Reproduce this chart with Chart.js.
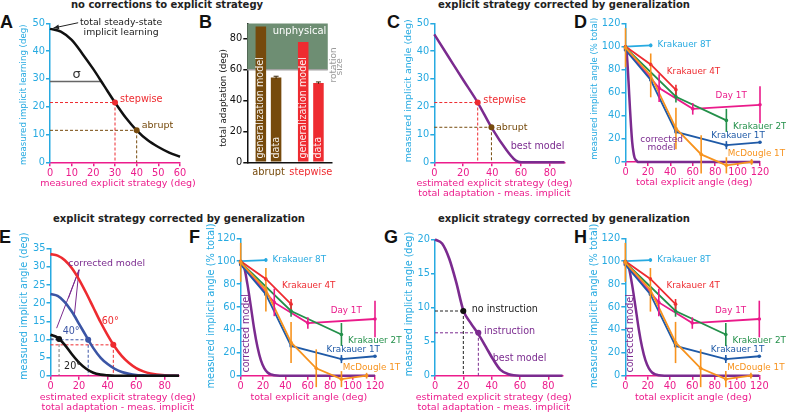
<!DOCTYPE html>
<html>
<head>
<meta charset="utf-8">
<script src="https://cdn.jsdelivr.net/npm/chart.js@4"></script>
<style>
	html, body { margin: 0; padding: 0; background: #fff; }
	#fig { position: relative; width: 786px; height: 414px; overflow: hidden; font-family: 'DejaVu Sans', sans-serif; }
	#fig canvas { position: absolute; left: 0; top: 0; }
	.let { position: absolute; font-family: 'Liberation Sans', Arial, sans-serif; font-weight: bold; font-size: 18px; line-height: 1; color: #111; }
	.ttl { position: absolute; font-weight: bold; font-size: 10px; line-height: 1; color: #222; white-space: nowrap; transform: translateX(-50%); }
</style>
</head>
<body>
<div id="fig">
	<div class="ttl" style="left:167px;top:0px">no corrections to explicit strategy</div>
	<div class="ttl" style="left:564px;top:0px">explicit strategy corrected by generalization</div>
	<div class="ttl" style="left:179px;top:214px">explicit strategy corrected by generalization</div>
	<div class="ttl" style="left:564px;top:214px">explicit strategy corrected by generalization</div>
	<div class="let" style="left:0px;top:13px">A</div>
	<div class="let" style="left:199px;top:13px">B</div>
	<div class="let" style="left:387px;top:13px">C</div>
	<div class="let" style="left:574px;top:13px">D</div>
	<div class="let" style="left:-1px;top:228px">E</div>
	<div class="let" style="left:189px;top:228px">F</div>
	<div class="let" style="left:384px;top:228px">G</div>
	<div class="let" style="left:574px;top:228px">H</div>
</div>
<script>
(function () {
	'use strict';

	var FONT = "'DejaVu Sans', sans-serif";
	var W = 786, H = 414;

	var CYAN = '#27aae1', PINK = '#ec1c8c', RED = '#ee2b30', BROWN = '#764a0c',
		PURPLE = '#7b2b8f', GREEN = '#23904a', BLUE = '#1f5aa7', ORANGE = '#f7931e',
		BLUE40 = '#3b55a5', MAGENTA = '#ea1a8a', SHADE = '#6e8e73', INK = '#222';

	// --- A: no corrections ---
	var aX = [0, 5, 10, 15, 20, 25, 30, 35, 40, 45, 50, 55, 60];
	var aY = [48, 47, 44, 39, 33.5, 27.5, 21.5, 16, 11.5, 8, 5.5, 3.5, 2];
	var aStep = [30, 21.5];
	var aAbr = [40, 11.5];
	var aSigma = [23.7, 29.1];
	var aXTicks = [0, 10, 20, 30, 40, 50, 60];
	var aYTicks = [0, 10, 20, 30, 40, 50];

	// --- B: total adaptation ---
	var bCats = ['abrupt', 'stepwise'];
	var bModel = [88, 78];
	var bData = [55, 51.5];
	var bDataErr = [0.8, 0.6];
	var bRotation = 60;
	var bMax = 90;
	var bYTicks = [0, 20, 40, 60, 80];
	var bBarLabels = ['generalization model', 'data'];

	// --- C: corrected, best model ---
	var cX = [0, 10, 20, 30, 40, 50, 55, 58, 60, 90];
	var cY = [46, 37.8, 29.6, 21.5, 12.1, 4.3, 1.2, 0.2, 0, 0];
	var cStep = [30, 21.5];
	var cAbr = [39.5, 12.6];
	var xTicks90 = [0, 20, 40, 60, 80];
	var cYTicks = [0, 10, 20, 30, 40, 50];

	// --- D, F, H: % total ---
	var k8X = [0, 22.5], k8Y = [100, 101], k8E = [0, 1.5];
	var k4X = [0, 22.5, 45], k4Y = [100, 84.5, 62.5], k4E = [0, 1.5, 4.5];
	var dayX = [0, 30, 60, 120], dayY = [98, 64, 46, 49.5], dayE = [0, 12, 5, 16];
	var k2X = [0, 45, 90], k2Y = [99, 56.5, 36], k2E = [0, 5, 10];
	var k1X = [0, 22.5, 45, 90, 120], k1Y = [97, 71, 26, 14.5, 17], k1E = [0, 0, 0, 3.5, 0];
	var mcdX = [0, 22.5, 45, 67.5, 90, 112.5], mcdY = [99, 75, 29, 6.5, -3, 0], mcdE = [17, 19, 18, 16.5, 7, 2.5];
	var cmdX = [0, 1, 2, 3, 4, 5, 6, 7, 8, 9, 10, 11, 12, 120];
	var cmdY = [100, 95, 82, 64, 46, 30, 17, 9, 4, 2, 1, 0, 0, 0];
	var cmfX = [0, 3, 6, 9, 12, 15, 18, 21, 24, 27, 30, 35, 40, 120];
	var cmfY = [100, 95, 80, 61, 41, 25, 13.5, 6.6, 2.8, 1.1, 0.4, 0, 0, 0];
	var pTicks = [0, 20, 40, 60, 80, 100, 120];

	// --- E: corrected model for three rotations ---
	var eX = [0, 5, 10, 15, 20, 25, 30, 35, 40, 45, 50, 55, 60, 65, 70, 80, 90];
	var e60 = [33.5, 33.1, 31.8, 29.6, 26.5, 22.8, 18.8, 14.8, 11.2, 8.0, 5.4, 3.5, 2.1, 1.2, 0.6, 0.1, 0];
	var e40 = [22.5, 22.0, 20.3, 17.6, 14.3, 10.9, 7.6, 5.0, 3.2, 1.9, 1.0, 0.5, 0.2, 0.1, 0, 0, 0];
	var e20 = [11.3, 10.5, 8.5, 5.9, 3.6, 1.9, 0.8, 0.3, 0.1, 0, 0, 0, 0, 0, 0, 0, 0];
	var e60Pt = [44, 8.5], e40Pt = [26.4, 9.9], e20Pt = [6, 10.1];
	var eYTicks = [0, 5, 10, 15, 20, 25, 30, 35];

	// --- G: instruction ---
	var gX = [0, 5, 10, 15, 20, 25, 30.6, 36, 41, 46, 52, 60, 90];
	var gY = [20, 19.4, 17.2, 13.7, 9.6, 7.8, 6.1, 4.2, 2.4, 0.9, 0.2, 0, 0];
	var gNoInst = [20, 9.5], gInst = [30.6, 6.3];
	var gYTicks = [0, 5, 10, 15, 20];

	var twoLineX = ['estimated explicit strategy (deg)', 'total adaptation - meas. implicit'];

	Chart.defaults.font.family = FONT;
	Chart.defaults.font.size = 9.8;

	function pts(xs, ys) {
		return xs.map(function (x, i) { return { x: x, y: ys[i] }; });
	}

	function makeCanvas() {
		var c = document.createElement('canvas');
		c.width = W; c.height = H;
		c.style.width = W + 'px'; c.style.height = H + 'px';
		document.getElementById('fig').appendChild(c);
		return c;
	}

	// titles are kept in the scale config, drawn by axisTitles below (no width squeeze)
	function axis(o) {
		var vert = o.pos === 'left';
		var ax = {
			type: o.type || 'linear',
			position: o.pos,
			afterFit: function (s) { if (vert) s.width = o.size; else s.height = o.size; },
			border: { color: o.color, width: 1.5 },
			grid: { display: o.noTicks ? false : true, drawOnChartArea: false, drawTicks: true, tickLength: 4, color: o.color, lineWidth: 1.5 },
			ticks: { color: o.tickColor || o.color, font: { size: 9.8 }, padding: o.pad == null ? 1 : o.pad, maxRotation: 0, autoSkip: false },
			title: { display: false, text: o.title || '', color: o.color }
		};
		if (ax.type === 'linear') {
			ax.min = o.min; ax.max = o.max;
			ax.afterBuildTicks = function (s) { s.ticks = o.ticks.map(function (v) { return { value: v }; }); };
		}
		return ax;
	}

	// t: { xdy, xdx, xSize, ydx, ydy, ySize }
	function axisTitles(t) {
		return {
			id: 'axisTitles',
			afterDraw: function (chart) {
				var ctx = chart.ctx, a = chart.chartArea;
				var xo = chart.options.scales.x.title, yo = chart.options.scales.y.title;
				ctx.save();
				ctx.textAlign = 'center';
				ctx.textBaseline = 'middle';
				if (xo.text) {
					ctx.font = (t.xSize || 9.5) + 'px ' + FONT;
					ctx.fillStyle = xo.color;
					var lines = Array.isArray(xo.text) ? xo.text : [xo.text];
					lines.forEach(function (s, i) {
						ctx.fillText(s, (a.left + a.right) / 2 + (t.xdx || 0), a.bottom + (t.xdy || 21) + i * 10);
					});
				}
				if (yo.text) {
					ctx.translate(a.left + t.ydx, (a.top + a.bottom) / 2 + (t.ydy || 0));
					ctx.rotate(-Math.PI / 2);
					ctx.font = t.ySize + 'px ' + FONT;
					ctx.fillStyle = yo.color;
					ctx.fillText(yo.text, 0, 0);
				}
				ctx.restore();
			}
		};
	}

	function panel(box, type, datasets, scales, extra, labels) {
		var data = { datasets: datasets };
		if (labels) data.labels = labels;
		return new Chart(makeCanvas(), {
			type: type,
			data: data,
			options: {
				responsive: false,
				animation: false,
				events: [],
				layout: { autoPadding: false, padding: { left: box.l - box.yw, top: box.t, right: W - box.r, bottom: H - box.b - box.xh } },
				plugins: { legend: { display: false }, tooltip: { enabled: false } },
				scales: scales
			},
			plugins: (extra || []).concat([axisTitles(box.titles)])
		});
	}

	function line(xs, ys, color, width, more) {
		var ds = { data: pts(xs, ys), borderColor: color, backgroundColor: color, borderWidth: width, pointRadius: 0, tension: 0, clip: false, fill: false };
		if (more) Object.keys(more).forEach(function (k) { ds[k] = more[k]; });
		return ds;
	}

	function smooth(xs, ys, color, width) {
		return line(xs, ys, color, width, { cubicInterpolationMode: 'monotone' });
	}

	function dot(p, color) {
		return { data: [{ x: p[0], y: p[1] }], showLine: false, pointRadius: 3, pointBackgroundColor: color, pointBorderWidth: 0, clip: false };
	}

	function guide(p, color, vColor) {
		return [
			line([0, p[0]], [p[1], p[1]], color, 1, { borderDash: [3, 2] }),
			line([p[0], p[0]], [p[1], 0], vColor || color, 1, { borderDash: [3, 2] })
		];
	}

	// text placed in data coordinates
	function notes(items) {
		return {
			id: 'notes',
			afterDatasetsDraw: function (chart) {
				var ctx = chart.ctx, sx = chart.scales.x, sy = chart.scales.y;
				items.forEach(function (n) {
					ctx.save();
					ctx.translate(sx.getPixelForValue(n.x), sy.getPixelForValue(n.y));
					if (n.rot) ctx.rotate(n.rot * Math.PI / 180);
					ctx.font = (n.size || 9.3) + 'px ' + FONT;
					ctx.fillStyle = n.color;
					ctx.textAlign = n.align || 'left';
					ctx.textBaseline = 'middle';
					var lines = Array.isArray(n.text) ? n.text : [n.text];
					lines.forEach(function (t, i) { ctx.fillText(t, 0, i * (n.lh || 11)); });
					ctx.restore();
				});
			}
		};
	}

	function errBars(width, cap) {
		return {
			id: 'errBars',
			afterDatasetsDraw: function (chart) {
				var ctx = chart.ctx, sy = chart.scales.y;
				chart.data.datasets.forEach(function (ds, i) {
					if (!ds.errors) return;
					var meta = chart.getDatasetMeta(i);
					ds.errors.forEach(function (e, j) {
						if (!e) return;
						var el = meta.data[j], v = ds.data[j];
						var yv = typeof v === 'object' ? v.y : v;
						var y0 = sy.getPixelForValue(yv - e), y1 = sy.getPixelForValue(yv + e);
						ctx.save();
						ctx.strokeStyle = ds.errColor || ds.borderColor;
						ctx.lineWidth = width;
						ctx.beginPath();
						ctx.moveTo(el.x, y0); ctx.lineTo(el.x, y1);
						if (cap) { ctx.moveTo(el.x - cap, y1); ctx.lineTo(el.x + cap, y1); }
						ctx.stroke();
						ctx.restore();
					});
				});
			}
		};
	}

	function arrow(from, to) {
		return {
			id: 'arrow',
			afterDatasetsDraw: function (chart) {
				var sx = chart.scales.x, sy = chart.scales.y, ctx = chart.ctx;
				var x0 = sx.getPixelForValue(from[0]), y0 = sy.getPixelForValue(from[1]);
				var x1 = sx.getPixelForValue(to[0]), y1 = sy.getPixelForValue(to[1]);
				var a = Math.atan2(y1 - y0, x1 - x0);
				ctx.save();
				ctx.strokeStyle = INK; ctx.fillStyle = INK; ctx.lineWidth = 1;
				ctx.beginPath(); ctx.moveTo(x0, y0); ctx.lineTo(x1, y1); ctx.stroke();
				ctx.beginPath(); ctx.moveTo(x1, y1);
				ctx.lineTo(x1 - 6 * Math.cos(a - 0.4), y1 - 6 * Math.sin(a - 0.4));
				ctx.lineTo(x1 - 6 * Math.cos(a + 0.4), y1 - 6 * Math.sin(a + 0.4));
				ctx.closePath(); ctx.fill();
				ctx.restore();
			}
		};
	}

	// --- A ---
	panel({ l: 50, t: 23.3, r: 180, b: 162.3, yw: 31, xh: 26, titles: { xdx: 3, xdy: 21, ydx: -26, ydy: 2, ySize: 8.6 } }, 'line',
		[
			dot(aStep, RED), dot(aAbr, BROWN),
			smooth(aX, aY, '#111', 2.5),
			line([0, aSigma[0]], [aSigma[1], aSigma[1]], '#666', 1.5)
		].concat(guide(aStep, RED), guide(aAbr, BROWN)),
		{
			x: axis({ pos: 'bottom', min: 0, max: 60, ticks: aXTicks, color: PINK, size: 26, title: 'measured explicit strategy (deg)' }),
			y: axis({ pos: 'left', min: 0, max: 50, ticks: aYTicks, color: CYAN, size: 31, title: 'measured implicit learning (deg)' })
		},
		[notes([
			{ x: 32.8, y: 50.2, text: 'total steady-state', color: INK, align: 'center' },
			{ x: 32.8, y: 46.8, text: 'implicit learning', color: INK, align: 'center' },
			{ x: 12.3, y: 31.4, text: 'σ', color: '#333', align: 'center', size: 13 },
			{ x: 32.3, y: 22.7, text: 'stepwise', color: RED, size: 9.7 },
			{ x: 42.3, y: 13.1, text: 'abrupt', color: BROWN, size: 9.5 }
		]), arrow([13, 50.2], [1.6, 48.3])]);

	// --- B ---
	var bShade = {
		id: 'bShade',
		beforeDatasetsDraw: function (chart) {
			var sx = chart.scales.x, sy = chart.scales.y, ctx = chart.ctx;
			var x0 = chart.chartArea.left, x1 = sx.getPixelForValue(1.4);
			var yTop = sy.getPixelForValue(bMax), yRot = sy.getPixelForValue(bRotation);
			ctx.save();
			ctx.fillStyle = SHADE;
			ctx.fillRect(x0, yTop, x1 - x0, yRot - yTop);
			ctx.strokeStyle = '#a3a3a3'; ctx.lineWidth = 1.5;
			ctx.beginPath(); ctx.moveTo(x0, yRot); ctx.lineTo(x1, yRot); ctx.stroke();
			ctx.restore();
		}
	};
	var bBarText = {
		id: 'bBarText',
		afterDatasetsDraw: function (chart) {
			var ctx = chart.ctx;
			bBarLabels.forEach(function (t, i) {
				chart.getDatasetMeta(i).data.forEach(function (el) {
					ctx.save();
					ctx.translate(el.x, el.base - 3);
					ctx.rotate(-Math.PI / 2);
					ctx.font = '9.6px ' + FONT;
					ctx.fillStyle = 'rgba(255,255,255,0.92)';
					ctx.textAlign = 'left';
					ctx.textBaseline = 'middle';
					ctx.fillText(t, 0, 0);
					ctx.restore();
				});
			});
		}
	};
	var bx = axis({ type: 'category', pos: 'bottom', color: '#111', size: 14, noTicks: true, pad: 0 });
	bx.ticks.color = function (c) { return c.index === 0 ? BROWN : RED; };
	panel({ l: 247.3, t: 23.5, r: 332, b: 162.3, yw: 29, xh: 14, titles: { ydx: -24, ydy: 5, ySize: 8.9 } }, 'bar',
		[
			{ data: bModel, backgroundColor: [BROWN, RED], categoryPercentage: 0.72, barPercentage: 0.69 },
			{ data: bData, backgroundColor: [BROWN, RED], errors: bDataErr, errColor: '#3a2608', categoryPercentage: 0.72, barPercentage: 0.69 }
		],
		{
			x: bx,
			y: axis({ pos: 'left', min: 0, max: bMax, ticks: bYTicks, color: '#111', size: 29, title: 'total adaptation (deg)' })
		},
		[bShade, bBarText, errBars(1, 2.5), notes([
			{ x: 0.732, y: 84.8, text: 'unphysical', color: '#fff', align: 'center', size: 10 },
			{ x: 1.53, y: 63.2, text: 'rotation', color: '#9a9a9a', align: 'center', rot: -90, size: 9 },
			{ x: 1.68, y: 61.9, text: 'size', color: '#9a9a9a', align: 'center', rot: -90, size: 9 }
		])], bCats);

	// --- C ---
	panel({ l: 434.3, t: 23.3, r: 564.5, b: 162.3, yw: 31, xh: 36, titles: { xdx: -5, xdy: 21, ydx: -26, ydy: -2, ySize: 9.5 } }, 'line',
		[dot(cStep, RED), dot(cAbr, BROWN), smooth(cX, cY, PURPLE, 2.5)].concat(guide(cStep, RED), guide(cAbr, BROWN)),
		{
			x: axis({ pos: 'bottom', min: 0, max: 90, ticks: xTicks90, color: PINK, size: 36, title: twoLineX }),
			y: axis({ pos: 'left', min: 0, max: 50, ticks: cYTicks, color: CYAN, size: 31, title: 'measured implicit angle (deg)' })
		},
		[notes([
			{ x: 33.9, y: 22.2, text: 'stepwise', color: RED, size: 9.7 },
			{ x: 42.6, y: 12.4, text: 'abrupt', color: BROWN, size: 9.5 },
			{ x: 52.8, y: 5.6, text: 'best model', color: PURPLE, size: 9.6 }
		])]);

	// --- D, F, H ---
	function seriesSets(mX, mY) {
		var s = { pointRadius: 1.8, pointBorderWidth: 0 };
		function ser(xs, ys, es, color) {
			var d = line(xs, ys, color, 1.8, s);
			d.pointBackgroundColor = color;
			d.errors = es;
			return d;
		}
		return [
			ser(mcdX, mcdY, mcdE, ORANGE),
			ser(k1X, k1Y, k1E, BLUE),
			ser(k2X, k2Y, k2E, GREEN),
			ser(dayX, dayY, dayE, MAGENTA),
			ser(k4X, k4Y, k4E, RED),
			ser(k8X, k8Y, k8E, CYAN),
			smooth(mX, mY, PURPLE, 2.5)
		];
	}
	var seriesNotes = [
		{ x: 28.5, y: 101.5, text: 'Krakauer 8T', color: CYAN, size: 8.8 },
		{ x: 36.8, y: 78.2, text: 'Krakauer 4T', color: RED, size: 8.8 },
		{ x: 80.4, y: 57, text: 'Day 1T', color: MAGENTA, size: 8.8 },
		{ x: 95.9, y: 30.2, text: 'Krakauer 2T', color: GREEN, size: 8.8 },
		{ x: 76.6, y: 22.6, text: 'Krakauer 1T', color: BLUE, size: 8.8 },
		{ x: 91.2, y: 6.7, text: 'McDougle 1T', color: ORANGE, size: 8.8 }
	];
	function pctScales(box) {
		return {
			x: axis({ pos: 'bottom', min: 0, max: 120, ticks: pTicks, color: PINK, size: box.xh, title: 'total explicit angle (deg)' }),
			y: axis({ pos: 'left', min: 0, max: 120, ticks: pTicks, color: CYAN, size: box.yw, title: 'measured implicit angle (% total)' })
		};
	}

	var boxD = { l: 625.5, t: 23.5, r: 760, b: 161.9, yw: 36, xh: 25.5, titles: { xdx: 1.5, xdy: 20.8, ydx: -31.2, ydy: -4, ySize: 8.5 } };
	panel(boxD, 'line', seriesSets(cmdX, cmdY), pctScales(boxD),
		[errBars(1.6), notes(seriesNotes.concat([
			{ x: 32.2, y: 19.3, text: ['corrected', 'model'], color: PURPLE, align: 'center', lh: 8.5, size: 9 }
		]))]);

	var boxF = { l: 240.7, t: 238.3, r: 375, b: 375.7, yw: 34.7, xh: 27, titles: { xdx: 1, xdy: 22, ydx: -29.7, ydy: -1, ySize: 9.9 } };
	panel(boxF, 'line', seriesSets(cmfX, cmfY), pctScales(boxF),
		[errBars(1.6), notes(seriesNotes.concat([
			{ x: 5.4, y: 37, text: 'corrected model', color: PURPLE, align: 'center', rot: -90, size: 9.6 }
		]))]);

	var boxH = { l: 625.3, t: 238.3, r: 759.3, b: 375.7, yw: 36, xh: 27, titles: { xdx: 1, xdy: 22, ydx: -31, ydy: -1, ySize: 9.85 } };
	panel(boxH, 'line', seriesSets(cmfX, cmfY), pctScales(boxH),
		[errBars(1.6), notes(seriesNotes.concat([
			{ x: 4.5, y: 37, text: 'corrected model', color: PURPLE, align: 'center', rot: -90, size: 9.6 }
		]))]);

	// --- E ---
	panel({ l: 50.5, t: 248.7, r: 179, b: 375.7, yw: 31.5, xh: 37, titles: { xdx: 3, xdy: 22, ydx: -26.5, ydy: -6, ySize: 9.8 } }, 'line',
		[
			dot(e60Pt, RED), dot(e40Pt, BLUE40), dot(e20Pt, '#111'),
			smooth(eX, e20, '#111', 2.6),
			smooth(eX, e40, BLUE40, 2.6),
			smooth(eX, e60, RED, 2.6),
			line([20, 4.3], [29.2, 13.1], PURPLE, 1),
			line([20, 12.5], [29.2, 21.3], PURPLE, 1),
			line([20, 16.7], [29.2, 16.7], PURPLE, 1)
		].concat(guide(e60Pt, RED), guide(e40Pt, BLUE40), guide(e20Pt, '#333', '#777')),
		{
			x: axis({ pos: 'bottom', min: 0, max: 90, ticks: xTicks90, color: PINK, size: 37, title: twoLineX }),
			y: axis({ pos: 'left', min: 0, max: 35, ticks: eYTicks, color: CYAN, size: 31.5, title: 'measured implicit angle (deg)' })
		},
		[notes([
			{ x: 12.5, y: 31, text: 'corrected model', color: PURPLE, size: 9.4 },
			{ x: 35.9, y: 15.05, text: '60°', color: RED, size: 9.6 },
			{ x: 8.5, y: 12.1, text: '40°', color: BLUE40, size: 9.6 },
			{ x: 9.5, y: 2.5, text: '20°', color: INK, size: 9.6 }
		])]);

	// --- G ---
	panel({ l: 435, t: 239.5, r: 562.5, b: 375.7, yw: 30.7, xh: 37, titles: { xdx: -5, xdy: 22, ydx: -25.7, ydy: -3.6, ySize: 9.6 } }, 'line',
		[dot(gNoInst, '#111'), dot(gInst, PURPLE), smooth(gX, gY, PURPLE, 2.6)].concat(guide(gNoInst, '#222'), guide(gInst, PURPLE)),
		{
			x: axis({ pos: 'bottom', min: 0, max: 90, ticks: xTicks90, color: PINK, size: 37, title: twoLineX }),
			y: axis({ pos: 'left', min: 0, max: 20, ticks: gYTicks, color: CYAN, size: 30.7, title: 'measured implicit angle (deg)' })
		},
		[notes([
			{ x: 25.9, y: 9.65, text: 'no instruction', color: INK, size: 9.6 },
			{ x: 34.6, y: 6.46, text: 'instruction', color: PURPLE, size: 9.6 },
			{ x: 40.7, y: 2.55, text: 'best model', color: PURPLE, size: 9.6 }
		])]);
})();
</script>
</body>
</html>
